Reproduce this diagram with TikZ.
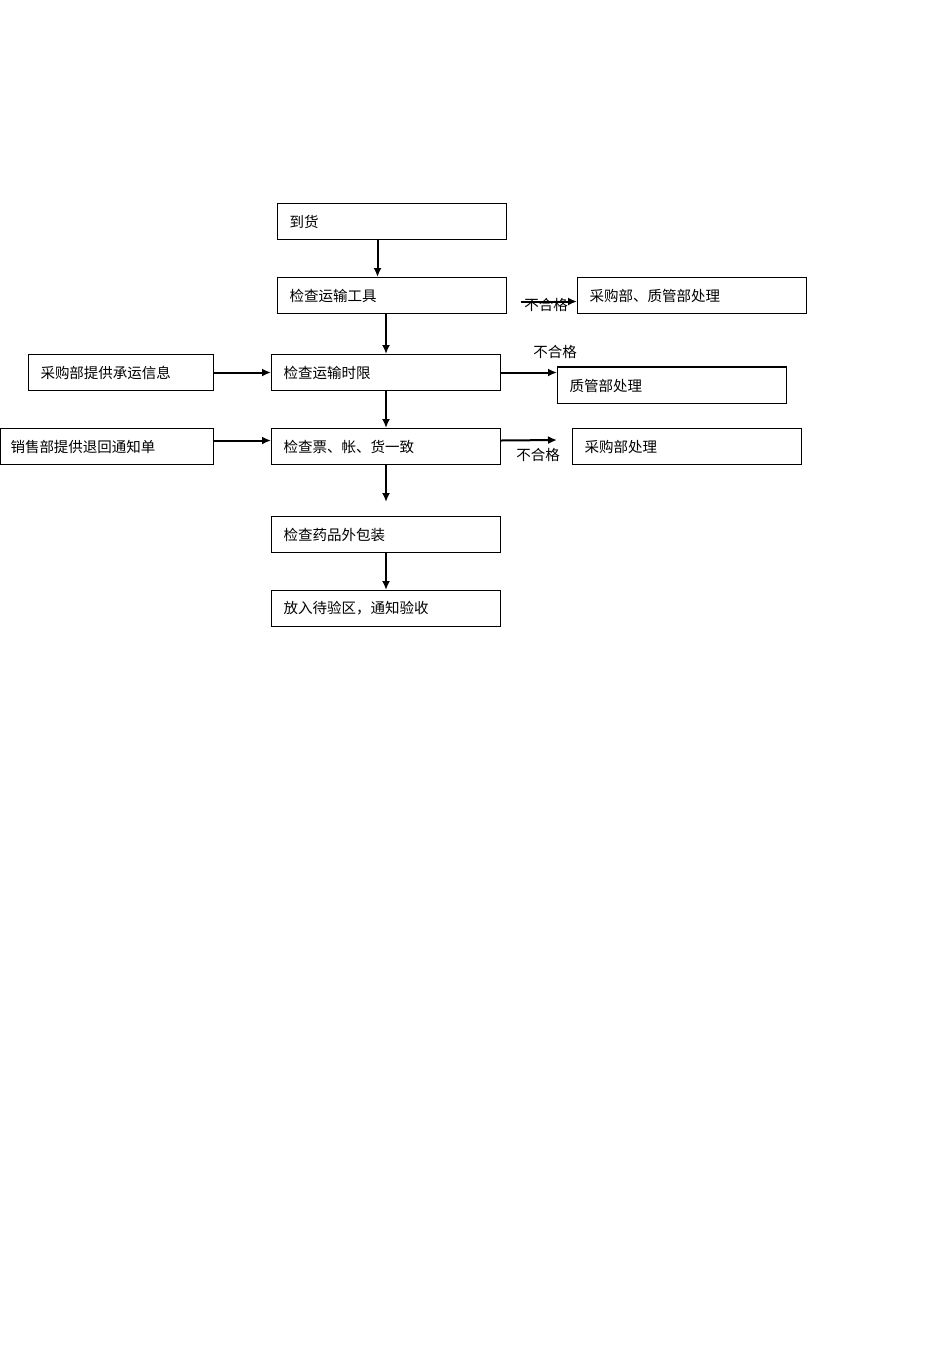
\documentclass[tikz,border=0pt]{standalone}
\usepackage{fontspec}
\setmainfont{Noto Sans CJK SC}
\usepackage{tikz}
\usetikzlibrary{arrows.meta,positioning,calc}

\begin{document}
\begin{tikzpicture}[x=1pt,y=-1pt,>={Latex[length=9pt,width=8pt]},font=\fontsize{14.5}{16}\selectfont]
\useasboundingbox (0,0) rectangle (950,1345);
\tikzstyle{blk}=[rectangle,draw,line width=1pt,anchor=north west,
                 minimum height=36pt,text width=205pt,inner xsep=12pt,align=left]
\tikzstyle{arr}=[->,line width=2pt]
\tikzstyle{lbl}=[font=\fontsize{14.5}{16}\selectfont,inner sep=0pt]
\node[blk] (arrive) at (277,203) {到货};
\node[blk] (tool) at (277,277) {检查运输工具};
\node[blk] (buyqa) at (577,277) {采购部、质管部处理};
\node[blk,text width=161pt] (carrier) at (28,354) {采购部提供承运信息};
\node[blk] (time) at (271,354) {检查运输时限};
\node[blk] (qa) at (557,367) {质管部处理};
\node[blk,text width=193pt,inner xsep=10pt] (sales) at (0,428) {销售部提供退回通知单};
\node[blk] (match) at (271,428) {检查票、帐、货一致};
\node[blk] (buy) at (572,428) {采购部处理};
\node[blk] (pack) at (271,516) {检查药品外包装};
\node[blk] (store) at (271,590) {放入待验区，通知验收};
\draw[line width=1.8pt] (qa.north west) -- (qa.north east);
\coordinate (buyend) at (557,440);
\coordinate (packend) at (386,502);
\draw[arr] ([xshift=-14.5pt]arrive.south) -- ([xshift=-14.5pt]tool.north);
\draw[arr] (tool.south -| time.north) -- (time.north);
\draw[arr,shorten <=14pt] ([yshift=-6pt]tool.east) -- ([yshift=-6pt]buyqa.west);
\node[lbl] at (546,305) {不合格};
\draw[arr] (carrier.east) -- (time.west);
\draw[arr] (time.east) -- (time.east -| qa.west);
\node[lbl] at (555,352) {不合格};
\draw[arr] (time.south) -- (match.north);
\draw[arr] ([yshift=6pt]sales.east) -- ([yshift=6pt]match.west);
\draw[arr] ([yshift=6pt]match.east) -- (buyend);
\node[lbl] at (538,455) {不合格};
\draw[arr] (match.south) -- (packend);
\draw[arr] (pack.south) -- (store.north);
\end{tikzpicture}
\end{document}
